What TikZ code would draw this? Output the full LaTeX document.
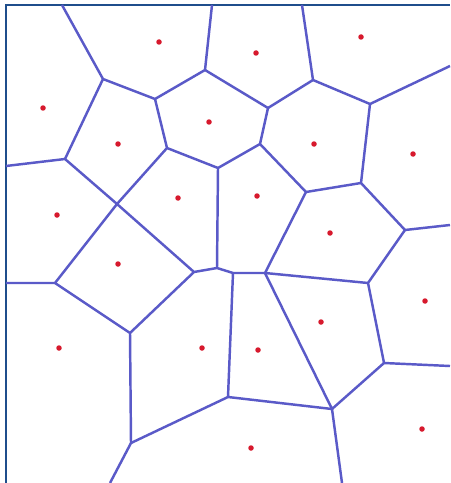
\documentclass[tikz,border=0pt]{standalone}
\usepackage{tikz}
\usetikzlibrary{positioning}
\definecolor{edgeblue}{RGB}{90,90,200}
\definecolor{sitered}{RGB}{215,25,45}
\definecolor{frameblue}{RGB}{31,78,140}

\begin{document}
\begin{tikzpicture}[x=0.02cm,y=-0.02cm,
  cell/.style={edgeblue,line width=1.4pt,line join=round},
  site/.style={fill=sitered,draw=none}]
\useasboundingbox (0,0) rectangle (450,483);
\fill[white] (0,0) rectangle (450,483);
% frame
\draw[frameblue,line width=1.3pt] (6,483)--(6,5)--(450,5);
% vertices
\coordinate (V1) at (103,79);
\coordinate (V2) at (155,99);
\coordinate (V3) at (205,70);
\coordinate (V4) at (167,148);
\coordinate (V5) at (65,159);
\coordinate (V6) at (117,204);
\coordinate (V7) at (218,168);
\coordinate (V8) at (313,80);
\coordinate (V9) at (268,108);
\coordinate (V10) at (370,104);
\coordinate (V11) at (260,144);
\coordinate (V12) at (361,183);
\coordinate (V13) at (306,192);
\coordinate (V14) at (405,230);
\coordinate (V15) at (55,283);
\coordinate (V16) at (130,333);
\coordinate (V17) at (194,272);
\coordinate (V18) at (217,268);
\coordinate (V19) at (131,443);
\coordinate (V20) at (265,273);
\coordinate (V21) at (233,273);
\coordinate (V22) at (368,283);
\coordinate (V23) at (384,363);
\coordinate (V24) at (332,409);
\coordinate (V25) at (228,397);
% free ends on the border
\coordinate (T1) at (62,5);
\coordinate (T2) at (212,5);
\coordinate (T3) at (302,5);
\coordinate (L1) at (6,166);
\coordinate (L2) at (6,283);
\coordinate (R1) at (450,66);
\coordinate (R2) at (450,225);
\coordinate (R3) at (450,366);
\coordinate (D1) at (110,483);
\coordinate (D2) at (342,483);
% edges
\draw[cell] (T1)--(V1)--(V2)--(V3)--(T2);
\draw[cell] (V1)--(V5)--(L1) (V5)--(V6);
\draw[cell] (V2)--(V4)--(V7) (V4)--(V6);
\draw[cell] (V3)--(V9)--(V11)--(V7)--(V18);
\draw[cell] (T3)--(V8)--(V9) (V8)--(V10)--(R1);
\draw[cell] (V10)--(V12)--(V13)--(V11) (V12)--(V14)--(R2);
\draw[cell] (V6)--(V15)--(L2) (V6)--(V17)--(V18)--(V21)--(V20);
\draw[cell] (V15)--(V16)--(V17) (V16)--(V19)--(D1);
\draw[cell] (V13)--(V20)--(V22)--(V14) (V22)--(V23)--(R3);
\draw[cell] (V21)--(V25)--(V24)--(D2) (V19)--(V25);
\draw[cell] (V20)--(V24)--(V23);
% sites
\foreach \p in {(159,42),(256,53),(361,37),(43,108),(209,122),(118,144),
  (314,144),(413,154),(57,215),(178,198),(257,196),(330,233),(118,264),
  (425,301),(59,348),(202,348),(258,350),(321,322),(422,429),(251,448)}
\fill[site] \p circle[radius=0.55mm];
\end{tikzpicture}
\end{document}
